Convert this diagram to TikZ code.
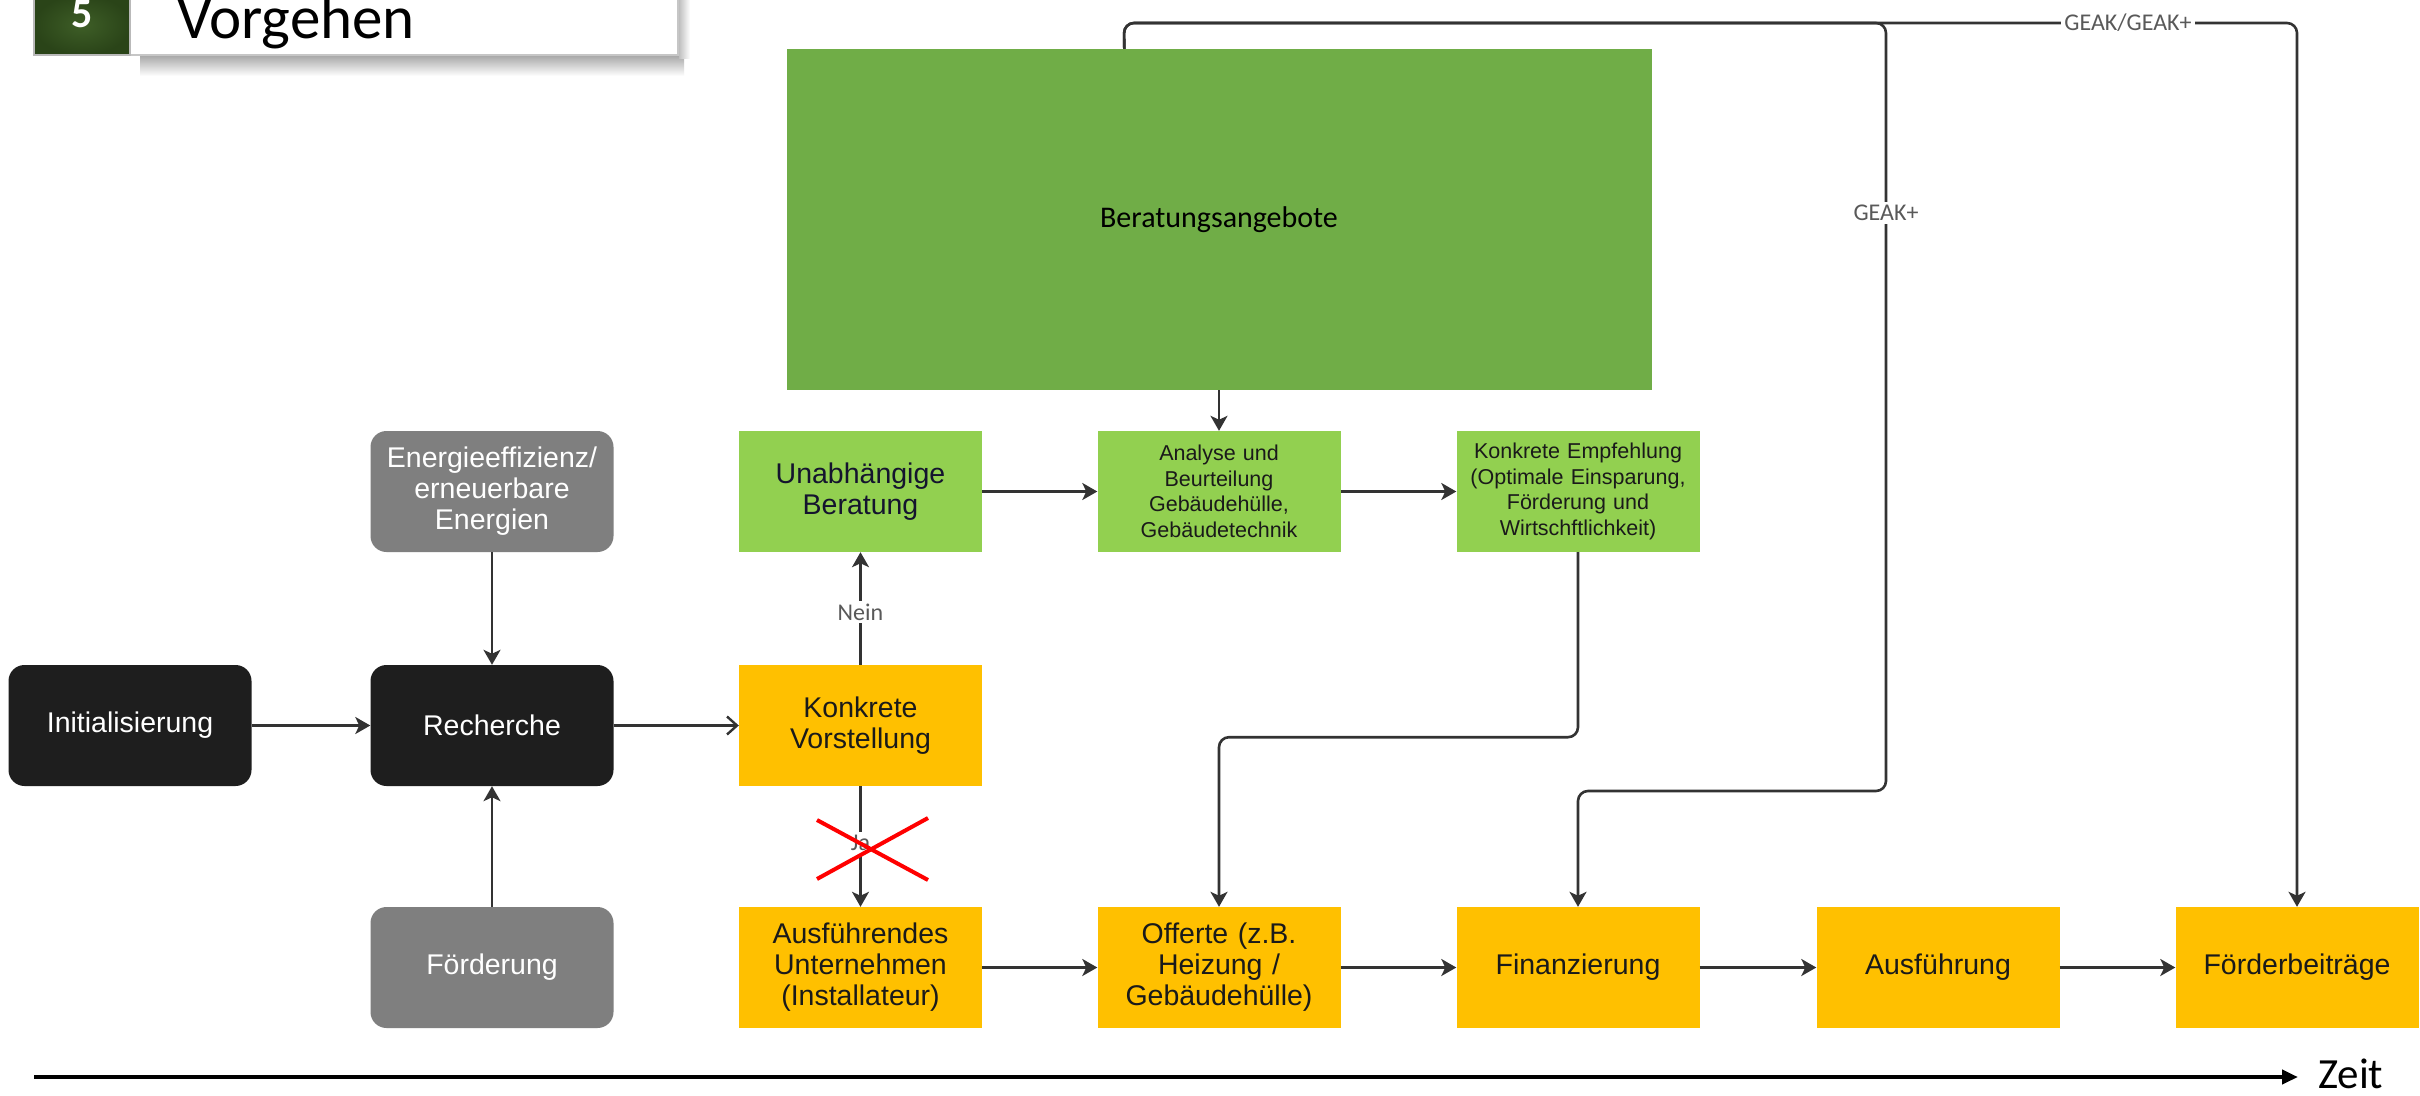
\documentclass[tikz,border=0pt]{standalone}
\usepackage{fontspec}
\setmainfont{Liberation Sans}
\newfontfamily\carl{Carlito}
\usetikzlibrary{arrows.meta,calc}
\definecolor{boxblack}{HTML}{1E1E1E}
\definecolor{boxgray}{HTML}{7F7F7F}
\definecolor{yel}{HTML}{FFC000}
\definecolor{lgreen}{HTML}{92D050}
\definecolor{bgreen}{HTML}{70AD47}
\definecolor{conncol}{HTML}{333333}
\definecolor{lblcol}{HTML}{595959}
\definecolor{darktext}{HTML}{1A1A1A}
\definecolor{navytext}{HTML}{14142E}
\definecolor{hgreenA}{HTML}{3E5E27}
\definecolor{hgreenB}{HTML}{2A4418}
\tikzset{
  box/.style={draw=none, minimum width=243pt, minimum height=121pt, align=center,
    inner sep=0pt, text width=240pt, font=\fontsize{28.5}{31}\selectfont},
  rbox/.style={box, rounded corners=16pt},
  smalltext/.style={font=\fontsize{21.5}{25.5}\selectfont},
  conn/.style={draw=conncol, line width=2.6pt,
    -{Stealth[length=15pt,width=17pt,inset=4pt]}},
  openconn/.style={draw=conncol, line width=2.4pt,
    -{Straight Barb[length=10pt,width=18pt,line width=2.4pt]}},
  lbl/.style={fill=white, text=lblcol, inner sep=3pt, font=\carl\fontsize{24}{24}\selectfont},
  timeline/.style={draw=black, line width=4pt, -{Triangle[length=16pt,width=14pt]}}
}
\begin{document}
\begin{tikzpicture}[x=1pt,y=-1pt]
\useasboundingbox (0,0) rectangle (2420,1095);
\clip (0,0) rectangle (2420,1095);
\fill[white] (0,0) rectangle (2420,1095);

% header
\shade[top color=black!35, bottom color=white] (140,55) rectangle (684,76);
\shade[left color=black!25, right color=white] (679,-5) rectangle (690,58);
\draw[draw=gray!45, line width=1.5pt, fill=white] (130,-5) rectangle (678,55);
\draw[draw=gray!55, line width=1.5pt, inner color=hgreenA, outer color=hgreenB] (34,-5) rectangle (130,55);
\node[text=white, inner sep=0pt, anchor=base, font=\carl\bfseries\fontsize{42}{42}\selectfont] (num) at (82,27) {5};
\node[anchor=base west, inner sep=0pt, font=\carl\fontsize{61}{61}\selectfont] (title) at (177,38) {Vorgehen};

% nodes
\node[rbox, fill=boxblack, text=white] (init) at (130,725.5) {Initialisierung};
\node[rbox, fill=boxblack, text=white] (rech) at (492,725.5) {Recherche};
\node[rbox, fill=boxgray, text=white] (ener) at (492,491.5) {Energieeffizienz/\\erneuerbare\\Energien};
\node[rbox, fill=boxgray, text=white] (foer) at (492,967.5) {Förderung};

\node[box, fill=yel, text=darktext] (vorst) at (860.5,725.5) {Konkrete\\Vorstellung};
\node[box, fill=lgreen, text=navytext] (unab) at (860.5,491.5) {Unabhängige\\Beratung};
\node[box, smalltext, fill=lgreen, text=darktext] (anal) at (1219,491.5) {Analyse und\\Beurteilung\\Gebäudehülle,\\Gebäudetechnik};
\node[box, smalltext, fill=lgreen, text=darktext] (empf) at (1578,491.5) {Konkrete Empfehlung\\(Optimale Einsparung,\\Förderung und\\Wirtschftlichkeit)};

\node[fill=bgreen, minimum width=865pt, minimum height=341pt, inner sep=0pt,
  font=\carl\fontsize{30}{30}\selectfont] (ber) at (1219,219.5) {Beratungsangebote};

\node[box, fill=yel, text=darktext] (ausf) at (860.5,967.5) {Ausführendes\\Unternehmen\\(Installateur)};
\node[box, fill=yel, text=darktext] (off) at (1219,967.5) {Offerte (z.B.\\Heizung /\\Gebäudehülle)};
\node[box, fill=yel, text=darktext] (fin) at (1578,967.5) {Finanzierung};
\node[box, fill=yel, text=darktext] (ausfg) at (1938,967.5) {Ausführung};
\node[box, fill=yel, text=darktext] (fb) at (2297,967.5) {Förderbeiträge};

% connectors
\draw[conn] (init) -- (rech);
\draw[conn] (ener) -- (rech);
\draw[conn] (foer) -- (rech);
\draw[openconn] (rech) -- (vorst);
\draw[conn] (vorst) -- node[lbl, pos=0.47] (nein) {Nein} (unab);
\draw[conn] (vorst) -- node[lbl, pos=0.47] (ja) {Ja} (ausf);
\draw[conn] (unab) -- (anal);
\draw[conn] (anal) -- (empf);
\draw[conn] (ber) -- (anal);
\draw[conn] (ausf) -- (off);
\draw[conn] (off) -- (fin);
\draw[conn] (fin) -- (ausfg);
\draw[conn] (ausfg) -- (fb);
\draw[conn, rounded corners=10pt] (empf.south) -- ($(empf.south)+(0,185)$) -| (off.north);

\coordinate (gs) at ($(ber.north west)+(338,0)$);
\draw[conn, rounded corners=10pt] (gs) -- (1124,23) -- (1886,23) -- (1886,791) -- (1578,791) -- (fin.north);
\draw[conn, rounded corners=10pt] (gs) -- (1124,23) -- (2297,23) -- (fb.north);
\node[lbl] (geakp) at (1886,213) {GEAK+};
\node[lbl] (geak) at (2128,23) {GEAK/GEAK+};

% red cross over "Ja"
\draw[red, line width=4pt] (817,820) -- (928,880);
\draw[red, line width=4pt] (817,879) -- (928,818);

% time axis
\coordinate (t0) at (34,1077);
\coordinate (t1) at (2298,1077);
\draw[timeline] (t0) -- (t1);
\node[anchor=base west, inner sep=0pt, font=\carl\fontsize{43}{43}\selectfont] (zeit) at (2318,1088) {Zeit};
\end{tikzpicture}
\end{document}
